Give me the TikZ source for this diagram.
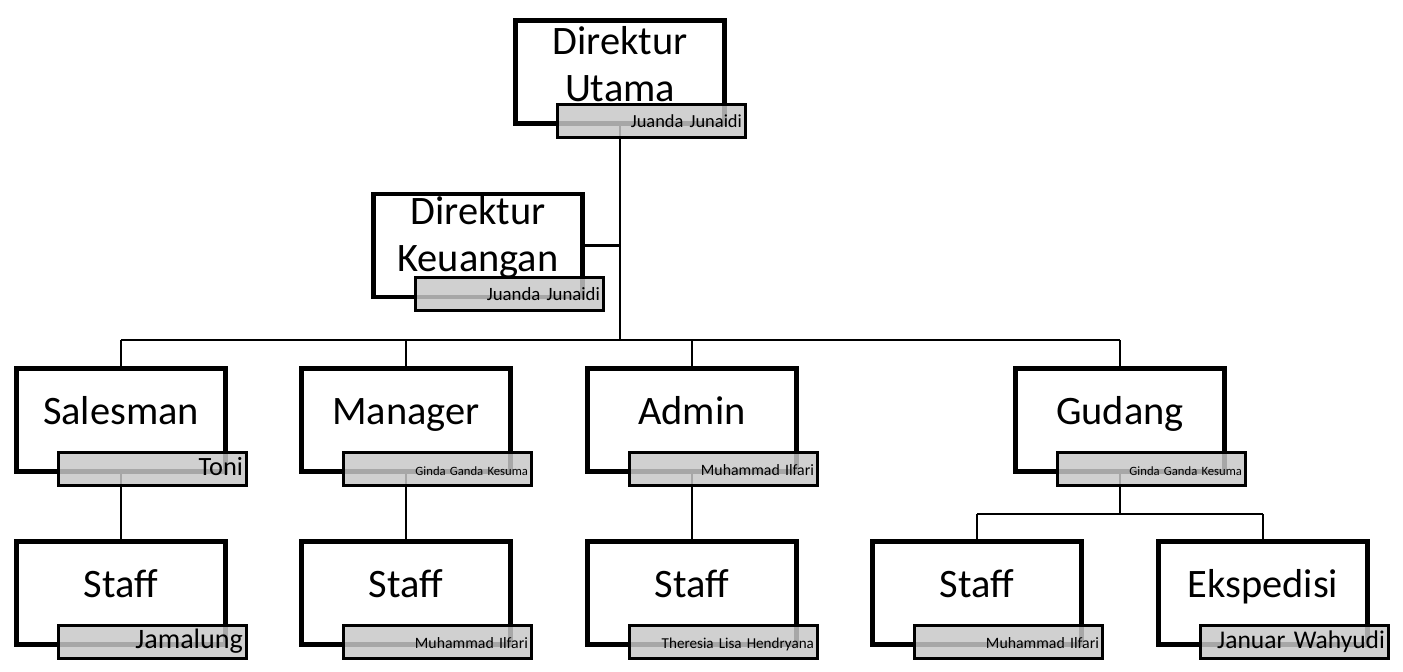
\documentclass[tikz,border=0pt]{standalone}
\usepackage{fontspec}
\setmainfont{Carlito}
\usetikzlibrary{positioning,backgrounds}

\begin{document}
\begin{tikzpicture}[
  x=0.02cm, y=-0.02cm,
  rolebox/.style={draw=black, fill=white, line width=2.8pt, minimum width=4.18cm, minimum height=2.06cm, inner sep=0pt},
  roletext/.style={align=center, font=\fontsize{23}{27}\selectfont, inner sep=0pt},
  oneline/.style={text height=0.52cm, text depth=0pt},
  namebox/.style={draw=black, line width=1.7pt, fill=black!22, fill opacity=0.84, text opacity=1,
    minimum width=3.76cm, minimum height=0.66cm, text width=3.62cm, align=right,
    text height=0.46cm, text depth=0.2cm, inner xsep=0.07cm, inner ysep=0pt, anchor=south east},
  link/.style={line width=1.3pt, black}
]
  \useasboundingbox (0,0) rectangle (1403,672);

  % top: the two directors
  \node[rolebox] (du) at (620,72) {};
  \node[roletext] (du-t) at ([yshift=0.16cm]du.center) {Direktur\\Utama};
  \node[namebox, font=\fontsize{10.5}{11}\selectfont] (du-p) at ([xshift=0.4cm,yshift=-0.26cm]du.south east) {Juanda Junaidi};

  \node[rolebox] (dk) at (478,245.5) {};
  \node[roletext] (dk-t) at ([yshift=0.16cm]dk.center) {Direktur\\Keuangan};
  \node[namebox, font=\fontsize{10.7}{11}\selectfont] (dk-p) at ([xshift=0.4cm,yshift=-0.26cm]dk.south east) {Juanda Junaidi};

  % middle row: the four units
  \foreach \n/\x/\t/\p/\s in {sales/121/Salesman/Toni/15, mgr/406/Manager/Ginda Ganda Kesuma/7.2,
      adm/692/Admin/Muhammad Ilfari/9, gdg/1120/Gudang/Ginda Ganda Kesuma/7.2} {
    \node[rolebox] (\n) at (\x,420) {};
    \node[roletext, oneline] (\n-t) at ([yshift=0.17cm]\n.center) {\t};
    \node[namebox, font=\fontsize{\s}{\s}\selectfont] (\n-p) at ([xshift=0.4cm,yshift=-0.26cm]\n.south east) {\p};
  }

  % bottom row: staff under each unit
  \foreach \n/\x/\t/\p/\s in {st1/121/Staff/Jamalung/16, st2/406/Staff/Muhammad Ilfari/9,
      st3/692/Staff/Theresia Lisa Hendryana/8.6, st4/977/Staff/Muhammad Ilfari/9,
      eks/1263/Ekspedisi/Januar Wahyudi/14.5} {
    \node[rolebox] (\n) at (\x,593) {};
    \node[roletext, oneline] (\n-t) at ([yshift=0.17cm]\n.center) {\t};
    \node[namebox, font=\fontsize{\s}{\s}\selectfont] (\n-p) at ([xshift=0.4cm,yshift=-0.26cm]\n.south east) {\p};
  }

  % connectors, kept behind the boxes
  \coordinate (bus) at (0,340);
  \coordinate (gbus) at (0,514);
  \begin{scope}[on background layer]
    \draw[link] (du) -- (du |- bus);
    \draw[link] (dk) -- (dk -| du);
    \draw[link] (sales |- bus) -- (gdg |- bus);
    \foreach \n in {sales,mgr,adm,gdg}
      \draw[link] (\n |- bus) -- (\n);
    \foreach \a/\b in {sales/st1, mgr/st2, adm/st3}
      \draw[link] (\a) -- (\b);
    \draw[link] (gdg) -- (gdg |- gbus);
    \draw[link] (st4 |- gbus) -- (eks |- gbus);
    \foreach \n in {st4,eks}
      \draw[link] (\n |- gbus) -- (\n);
  \end{scope}

\end{tikzpicture}
\end{document}
